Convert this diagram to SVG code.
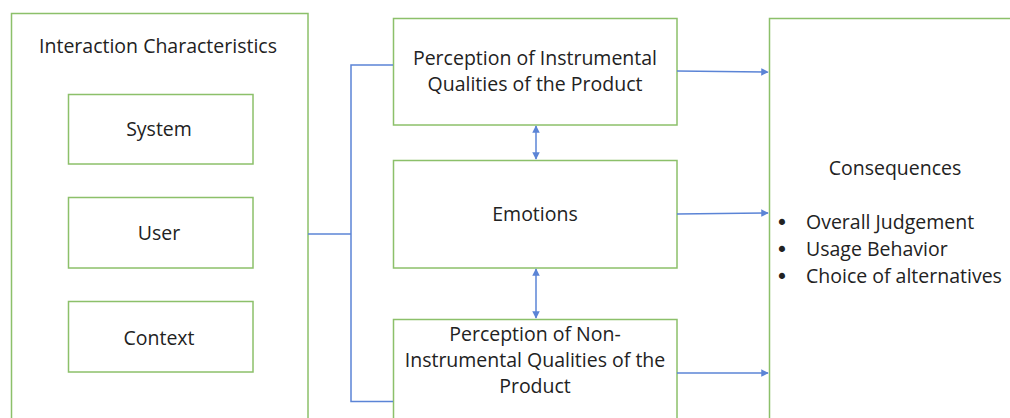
<svg xmlns="http://www.w3.org/2000/svg" width="1010" height="418" viewBox="0 0 1010 418">
<style>
.box{fill:#fff;stroke:#8cc06a;stroke-width:1.5}
.t{font-family:"Open Sans","Noto Sans",sans-serif;font-size:19.5px;fill:#222;text-anchor:middle}
.tl{font-family:"Open Sans","Noto Sans",sans-serif;font-size:19.5px;fill:#222}
.b{font-family:"DejaVu Sans",sans-serif;font-size:21px;fill:#222;text-anchor:middle}
.c{stroke:#5b84d6;stroke-width:1.5;fill:none}
</style>
<defs>
<marker id="ah" viewBox="0 0 10 10" refX="9" refY="5" markerWidth="5" markerHeight="5" orient="auto-start-reverse">
<path d="M0,0 L10,5 L0,10 z" fill="#5b84d6"/>
</marker>
</defs>
<rect width="1010" height="418" fill="#fff"/>
<g id="interaction">
<rect class="box" x="11.5" y="13.5" width="296.5" height="420"/>
<text class="t" x="158" y="53">Interaction Characteristics</text>
</g>
<g id="system"><rect class="box" x="68.5" y="94.5" width="184.5" height="69.5"/><text class="t" x="159" y="136">System</text></g>
<g id="user"><rect class="box" x="68.5" y="197.5" width="184.5" height="70.5"/><text class="t" x="159" y="240">User</text></g>
<g id="context"><rect class="box" x="68.5" y="301.5" width="184.5" height="70.5"/><text class="t" x="159" y="345">Context</text></g>
<g id="instrumental"><rect class="box" x="393.5" y="18.5" width="283.5" height="106.5"/><text class="t" x="535" y="65">Perception of Instrumental</text><text class="t" x="535" y="91">Qualities of the Product</text></g>
<g id="emotions"><rect class="box" x="393.5" y="160.5" width="283.5" height="107.5"/><text class="t" x="535" y="221">Emotions</text></g>
<g id="noninstrumental"><rect class="box" x="393.5" y="319.5" width="283.5" height="120"/><text class="t" x="535" y="341">Perception of Non-</text><text class="t" x="535" y="367">Instrumental Qualities of the</text><text class="t" x="535" y="393">Product</text></g>
<g id="consequences"><rect class="box" x="769.5" y="18.5" width="260" height="420"/>
<text class="t" x="895" y="175">Consequences</text>
<text class="b" x="782" y="230">•</text><text class="tl" x="806" y="229">Overall Judgement</text>
<text class="b" x="782" y="257">•</text><text class="tl" x="806" y="256">Usage Behavior</text>
<text class="b" x="782" y="284">•</text><text class="tl" x="806" y="283">Choice of alternatives</text>
</g>
<g id="connectors">
<path class="c" d="M308,234 H351"/>
<path class="c" d="M393,65 H351 V401.5 H393"/>
<path class="c" d="M677,71 L768,72" marker-end="url(#ah)"/>
<path class="c" d="M677,214 L768,213" marker-end="url(#ah)"/>
<path class="c" d="M677,373 L768,373" marker-end="url(#ah)"/>
<path class="c" d="M536,126 V159" marker-start="url(#ah)" marker-end="url(#ah)"/>
<path class="c" d="M536,269 V318" marker-start="url(#ah)" marker-end="url(#ah)"/>
</g>
</svg>
